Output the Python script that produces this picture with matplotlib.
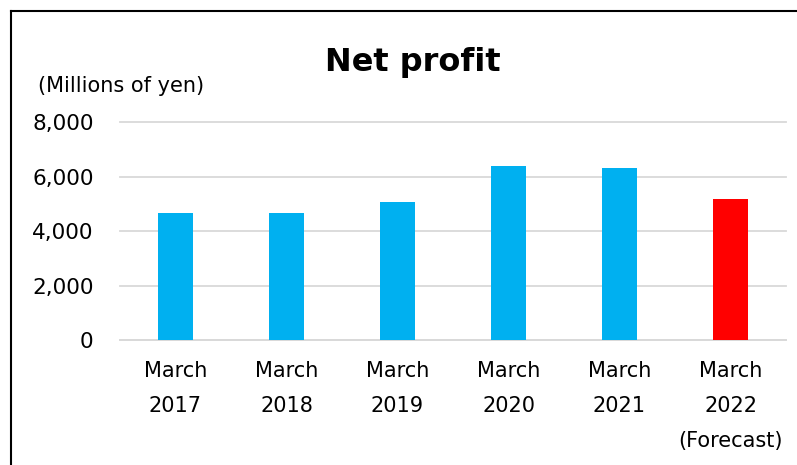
import matplotlib.pyplot as plt
from matplotlib.lines import Line2D

# Net profit by fiscal year (millions of yen)
years = ['March\n2017', 'March\n2018', 'March\n2019', 'March\n2020', 'March\n2021',
         'March\n2022\n(Forecast)']
profit = [4650, 4650, 5080, 6400, 6320, 5190]
bar_colors = ['#00B0F0', '#00B0F0', '#00B0F0', '#00B0F0', '#00B0F0', '#FF0000']
y_ticks = [0, 2000, 4000, 6000, 8000]

W, H = 797, 465
fig = plt.figure(figsize=(W / 100, H / 100), dpi=100)
ax = fig.add_axes([120 / W, 125 / H, 666 / W, 218 / H])

x = range(len(years))
ax.bar(x, profit, width=0.315, color=bar_colors, zorder=3)

ax.set_xlim(-0.5, len(years) - 0.5)
ax.set_ylim(0, 8000)
ax.set_yticks(y_ticks)
ax.set_yticklabels([f'{v:,}' for v in y_ticks], fontsize=15.5)
ax.set_xticks(list(x))
ax.set_xticklabels(years, fontsize=15, linespacing=1.95, va='top')
ax.tick_params(axis='y', length=0, pad=19)
ax.tick_params(axis='x', length=0, pad=15)

ax.grid(axis='y', color='#d9d9d9', linewidth=1.3, zorder=0)
for gl in ax.yaxis.get_gridlines():
    gl.set_clip_on(False)
for s in ['top', 'right', 'left']:
    ax.spines[s].set_visible(False)
ax.spines['bottom'].set_color('#d9d9d9')
ax.spines['bottom'].set_linewidth(1.3)

fig.text(413 / W, 1 - 62 / H, 'Net profit', fontsize=23, fontweight='bold',
         ha='center', va='center')
fig.text(38 / W, 1 - 86 / H, '(Millions of yen)', fontsize=15, ha='left', va='center')

# outer border (left and top edges visible)
fig.add_artist(Line2D([11 / W, 11 / W], [0, 1 - 11 / H], color='black', linewidth=1.5,
                      transform=fig.transFigure))
fig.add_artist(Line2D([11 / W, 1], [1 - 11 / H, 1 - 11 / H], color='black', linewidth=1.5,
                      transform=fig.transFigure))

plt.savefig('out.png', dpi=100)
